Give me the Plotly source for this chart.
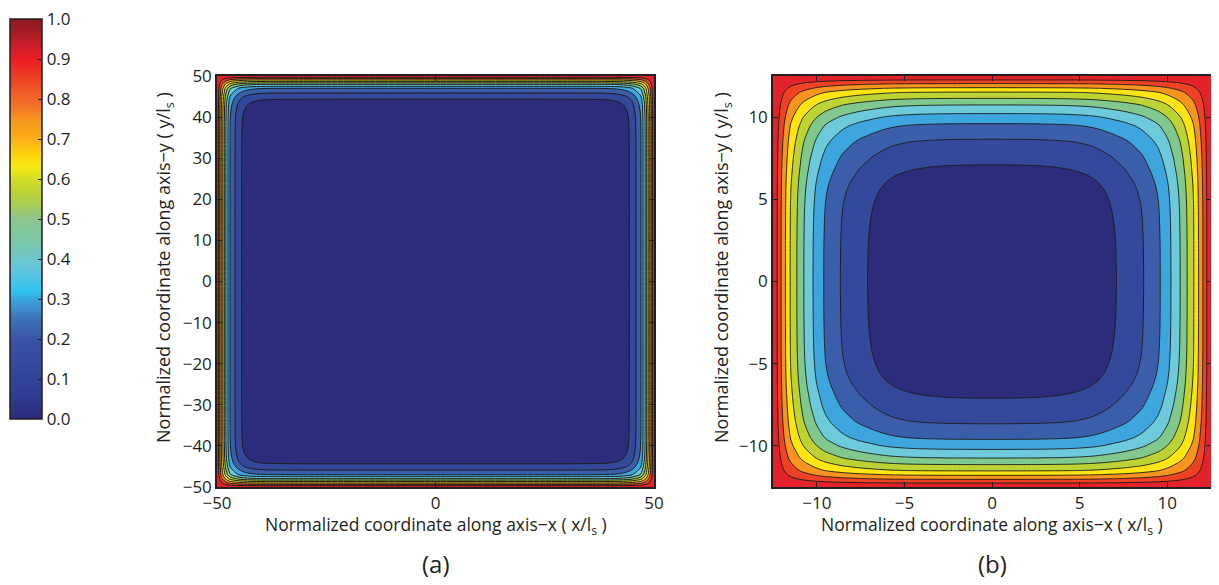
import numpy as np
import plotly.graph_objects as go

W, H = 1219, 585
OFF = 8  # the page shows the figure 8 px from its top-left corner
FONT = "Open Sans"
TXT = "#231f20"

# ---------------- data ----------------
# colour bar (value -> colour), 0..1
cbar_vals = [0.00, 0.05, 0.10, 0.15, 0.20, 0.25, 0.28, 0.30, 0.32, 0.35, 0.38, 0.42,
             0.45, 0.50, 0.53, 0.57, 0.60, 0.63, 0.66, 0.70, 0.75, 0.78, 0.82, 0.86,
             0.90, 0.94, 0.97, 1.00]
cbar_cols = ["#2b2a7c", "#2e3a8f", "#32449a", "#354c9f", "#3a55a5", "#3e72b8", "#3e92d0",
             "#3aa5dd", "#2ec4f1", "#4fc3e5", "#66c6db", "#72c6ba", "#7bc6a4", "#8cc68c",
             "#a4cc5c", "#bdd233", "#d4dd24", "#f5ea15", "#fdd30c", "#fbb016", "#f7941d",
             "#f3742a", "#f05a28", "#ee3a24", "#ed1c24", "#c41e2a", "#a31d24", "#8a1a1c"]
cbar_ticks = [0.0, 0.1, 0.2, 0.3, 0.4, 0.5, 0.6, 0.7, 0.8, 0.9, 1.0]
cbar_labels = ["0.0", "0.1", "0.2", "0.3", "0.4", "0.5", "0.6", "0.7", "0.8", "0.9", "1.0"]

# contour levels k/11 (k = 1..10) and the fill colour of each of the 11 bands
n_div = 11
band_cols = ["#2b2c7c", "#34489c", "#3b5eab", "#3ea6df", "#6ccadb", "#80c88c",
             "#bdd334", "#fee410", "#f7941d", "#ef4123", "#e32128"]

# (a) profile: value vs. distance from the edge (x/l_s), half width 50
dist_a = [0, 1, 2, 3, 4, 5, 6, 7, 8, 9, 10, 11, 12, 50]
prof_a = [1.0, 0.72, 0.46, 0.27, 0.19, 0.12, 0.075, 0.047, 0.029, 0.018, 0.011, 0.007, 0.004, 0.0]

# (b) profile: value vs. distance from the edge, half width 12.5
dist_b = [0, 0.25, 0.5, 0.75, 1.0, 1.25, 1.5, 1.75, 2.0, 2.5, 3.0, 3.5, 4.0, 4.5,
          5.0, 5.5, 6.0, 6.5, 7.0, 7.5, 8.0, 9.0, 10.0, 11.0, 12.5]
prof_b = [1.0, 0.905, 0.803, 0.713, 0.629, 0.571, 0.513, 0.456, 0.412, 0.327, 0.258,
          0.211, 0.168, 0.137, 0.108, 0.086, 0.064, 0.045, 0.031, 0.022, 0.015, 0.007,
          0.003, 0.0015, 0.0005]

ticks_a = [-50, -40, -30, -20, -10, 0, 10, 20, 30, 40, 50]
xticks_a = [-50, 0, 50]
ticks_b = [-10, -5, 0, 5, 10]


def px(x):
    return (x - OFF) / W


def py(y):
    return 1 - (y - OFF) / H


def grid(dist, prof):
    half = dist[-1]
    d = np.array(dist[:-1], dtype=float)
    p = np.array(prof[:-1], dtype=float)
    coords = np.concatenate([-half + d, [0.0], (half - d)[::-1]])
    vals = np.concatenate([p, [prof[-1]], p[::-1]])
    return coords, vals


def field(dist, prof):
    c, v = grid(dist, prof)
    z = 1.0 - np.outer(1.0 - v, 1.0 - v)
    return c, z


# step colourscale for the contour bands (band k is sampled near k/10)
cuts = [0.0] + [k / 10 + 0.075 for k in range(9)] + [0.975, 1.0]
cs = []
for i, col in enumerate(band_cols):
    cs.append([cuts[i], col])
    cs.append([cuts[i + 1], col])

fig = go.Figure()

for (dist, prof), xa, ya, lw in [
    ((dist_a, prof_a), "x", "y", 1.0),
    ((dist_b, prof_b), "x2", "y2", 0.9),
]:
    c, z = field(dist, prof)
    fig.add_trace(go.Contour(
        x=c, y=c, z=z, autocontour=False,
        contours=dict(start=1 / n_div, end=(n_div - 1) / n_div, size=1 / n_div,
                      coloring="fill", showlines=True),
        line=dict(color="#1c1c1c", width=lw),
        colorscale=cs, showscale=False, hoverinfo="skip",
        xaxis=xa, yaxis=ya,
    ))

# colour bar
cbar_top, cbar_bot = 19, 419
cbar_scale = [[v, c] for v, c in zip(cbar_vals, cbar_cols)]
fig.add_trace(go.Scatter(
    x=[None], y=[None], mode="markers", showlegend=False, hoverinfo="skip",
    marker=dict(color=[0.5], cmin=0, cmax=1.0, colorscale=cbar_scale, showscale=True,
                colorbar=dict(
                    x=px(10), xanchor="left", y=py(cbar_top), yanchor="top",
                    len=cbar_bot - cbar_top, lenmode="pixels",
                    thickness=32, thicknessmode="pixels",
                    xpad=0, ypad=0, outlinewidth=1.5, outlinecolor="#231f20",
                    tickvals=cbar_ticks, ticktext=cbar_labels, ticks="inside",
                    ticklen=4, tickcolor="#231f20", ticklabeloverflow="allow",
                    tickfont=dict(family=FONT, size=17, color=TXT))),
))

ydom = [py(487), py(76)]
axis_common = dict(showline=True, linecolor="#231f20", linewidth=1.5, mirror="ticks",
                   ticks="inside", ticklen=5, tickwidth=1, tickcolor="#231f20",
                   showgrid=False, zeroline=False, automargin=False,
                   tickfont=dict(family=FONT, size=17, color=TXT))

fig.update_layout(
    width=W, height=H, margin=dict(l=0, r=0, t=0, b=0, autoexpand=False),
    paper_bgcolor="white", plot_bgcolor="white", showlegend=False,
    xaxis=dict(domain=[px(217), px(654)], range=[-50, 50], tickvals=xticks_a,
               anchor="y", **axis_common),
    yaxis=dict(domain=ydom, range=[-50, 50], tickvals=ticks_a, anchor="x", **axis_common),
    xaxis2=dict(domain=[px(773), px(1211)], range=[-12.5, 12.5], tickvals=ticks_b,
                anchor="y2", **axis_common),
    yaxis2=dict(domain=ydom, range=[-12.5, 12.5], tickvals=ticks_b, anchor="x2",
                **axis_common),
)

xt = "Normalized coordinate along axis\u2212x ( x/l<sub>s</sub> )"
yt = "Normalized coordinate along axis\u2212y ( y/l<sub>s</sub> )"
ann = []
for cx, yx, lab in [(435.5, 164, "(a)"), (992, 722, "(b)")]:
    ann.append(dict(x=px(cx), y=py(525), xref="paper", yref="paper", text=xt,
                    showarrow=False, xanchor="center", yanchor="middle",
                    font=dict(family=FONT, size=17.5, color=TXT)))
    ann.append(dict(x=px(yx), y=py(268), xref="paper", yref="paper", text=yt,
                    showarrow=False, xanchor="center", yanchor="middle", textangle=-90,
                    font=dict(family=FONT, size=18, color=TXT)))
    ann.append(dict(x=px(cx), y=py(563), xref="paper", yref="paper", text=lab,
                    showarrow=False, xanchor="center", yanchor="middle",
                    font=dict(family=FONT, size=24, color=TXT)))
fig.update_layout(annotations=ann)

fig.write_html("out.html")
